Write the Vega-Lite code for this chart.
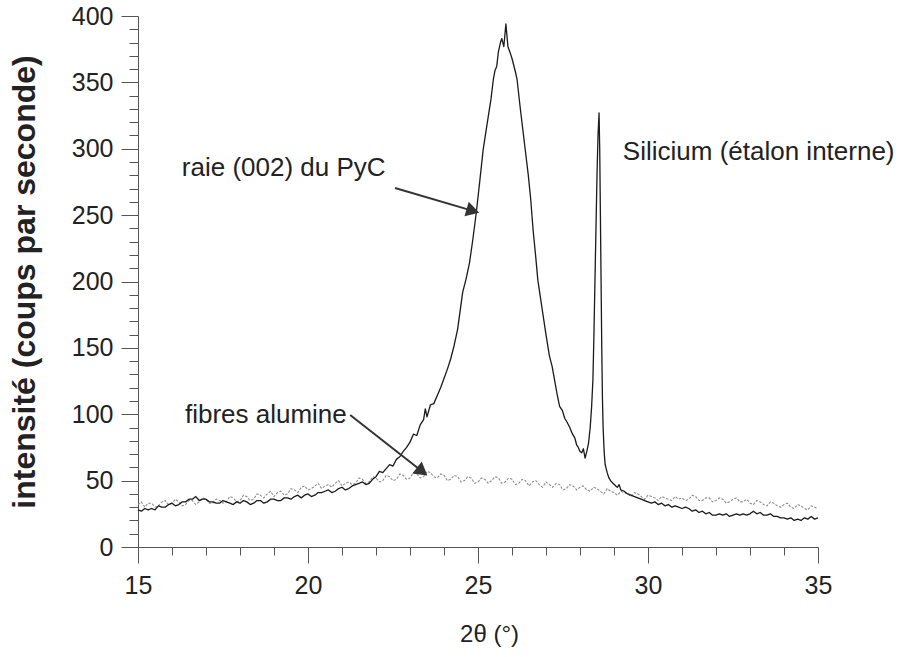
{
  "$schema": "https://vega.github.io/schema/vega-lite/v6.json",
  "width": 680,
  "height": 531,
  "autosize": {"type": "none"},
  "padding": {"left": 138, "top": 16, "right": 85, "bottom": 110},
  "background": "white",
  "config": {
    "view": {"stroke": null},
    "font": "Liberation Sans",
    "axis": {"grid": false, "domainColor": "#555", "tickColor": "#555", "labelColor": "#222", "titleColor": "#222", "labelFont": "Liberation Sans", "titleFont": "Liberation Sans", "labelFlush": false}
  },
  "datasets": {
    "pyc": [
      {"theta": 15.0, "intensite": 28}, {"theta": 15.1, "intensite": 27}, {"theta": 15.2, "intensite": 29}, {"theta": 15.3, "intensite": 28},
      {"theta": 15.4, "intensite": 29}, {"theta": 15.5, "intensite": 28}, {"theta": 15.6, "intensite": 31}, {"theta": 15.7, "intensite": 30},
      {"theta": 15.8, "intensite": 30}, {"theta": 15.9, "intensite": 32}, {"theta": 16.0, "intensite": 33}, {"theta": 16.1, "intensite": 31},
      {"theta": 16.2, "intensite": 32}, {"theta": 16.3, "intensite": 34}, {"theta": 16.4, "intensite": 34}, {"theta": 16.5, "intensite": 36},
      {"theta": 16.6, "intensite": 36}, {"theta": 16.7, "intensite": 38}, {"theta": 16.8, "intensite": 35}, {"theta": 16.9, "intensite": 36},
      {"theta": 17.0, "intensite": 36}, {"theta": 17.1, "intensite": 34}, {"theta": 17.2, "intensite": 34}, {"theta": 17.3, "intensite": 33},
      {"theta": 17.4, "intensite": 33}, {"theta": 17.5, "intensite": 35}, {"theta": 17.6, "intensite": 34}, {"theta": 17.7, "intensite": 33},
      {"theta": 17.8, "intensite": 32}, {"theta": 17.9, "intensite": 34}, {"theta": 18.0, "intensite": 33}, {"theta": 18.1, "intensite": 35},
      {"theta": 18.2, "intensite": 34}, {"theta": 18.3, "intensite": 32}, {"theta": 18.4, "intensite": 33}, {"theta": 18.5, "intensite": 35},
      {"theta": 18.6, "intensite": 35}, {"theta": 18.7, "intensite": 33}, {"theta": 18.8, "intensite": 34}, {"theta": 18.9, "intensite": 36},
      {"theta": 19.0, "intensite": 36}, {"theta": 19.1, "intensite": 35}, {"theta": 19.2, "intensite": 35}, {"theta": 19.3, "intensite": 37},
      {"theta": 19.4, "intensite": 37}, {"theta": 19.5, "intensite": 36}, {"theta": 19.6, "intensite": 38}, {"theta": 19.7, "intensite": 39},
      {"theta": 19.8, "intensite": 37}, {"theta": 19.9, "intensite": 39}, {"theta": 20.0, "intensite": 40}, {"theta": 20.1, "intensite": 38},
      {"theta": 20.2, "intensite": 39}, {"theta": 20.3, "intensite": 41}, {"theta": 20.4, "intensite": 41}, {"theta": 20.5, "intensite": 42},
      {"theta": 20.6, "intensite": 43}, {"theta": 20.7, "intensite": 41}, {"theta": 20.8, "intensite": 42}, {"theta": 20.9, "intensite": 44},
      {"theta": 21.0, "intensite": 45}, {"theta": 21.1, "intensite": 43}, {"theta": 21.2, "intensite": 44}, {"theta": 21.3, "intensite": 46},
      {"theta": 21.4, "intensite": 47}, {"theta": 21.5, "intensite": 48}, {"theta": 21.6, "intensite": 49}, {"theta": 21.7, "intensite": 47},
      {"theta": 21.8, "intensite": 48}, {"theta": 21.9, "intensite": 51}, {"theta": 22.0, "intensite": 53}, {"theta": 22.1, "intensite": 57},
      {"theta": 22.2, "intensite": 56}, {"theta": 22.3, "intensite": 59}, {"theta": 22.4, "intensite": 62}, {"theta": 22.5, "intensite": 61},
      {"theta": 22.6, "intensite": 66}, {"theta": 22.7, "intensite": 68}, {"theta": 22.8, "intensite": 72}, {"theta": 22.9, "intensite": 75},
      {"theta": 23.0, "intensite": 79}, {"theta": 23.1, "intensite": 85}, {"theta": 23.2, "intensite": 84}, {"theta": 23.3, "intensite": 92},
      {"theta": 23.4, "intensite": 96}, {"theta": 23.45, "intensite": 104}, {"theta": 23.5, "intensite": 98}, {"theta": 23.6, "intensite": 107},
      {"theta": 23.7, "intensite": 108}, {"theta": 23.8, "intensite": 114}, {"theta": 23.9, "intensite": 120}, {"theta": 24.0, "intensite": 127},
      {"theta": 24.1, "intensite": 134}, {"theta": 24.2, "intensite": 142}, {"theta": 24.3, "intensite": 152}, {"theta": 24.4, "intensite": 164},
      {"theta": 24.55, "intensite": 192}, {"theta": 24.65, "intensite": 202}, {"theta": 24.75, "intensite": 214}, {"theta": 24.85, "intensite": 232},
      {"theta": 24.95, "intensite": 252}, {"theta": 25.05, "intensite": 275}, {"theta": 25.15, "intensite": 299}, {"theta": 25.3, "intensite": 324},
      {"theta": 25.38, "intensite": 337}, {"theta": 25.45, "intensite": 352}, {"theta": 25.5, "intensite": 359}, {"theta": 25.55, "intensite": 362},
      {"theta": 25.6, "intensite": 373}, {"theta": 25.66, "intensite": 380}, {"theta": 25.7, "intensite": 383}, {"theta": 25.76, "intensite": 377},
      {"theta": 25.82, "intensite": 394}, {"theta": 25.88, "intensite": 377}, {"theta": 25.95, "intensite": 372}, {"theta": 26.0, "intensite": 368},
      {"theta": 26.1, "intensite": 358}, {"theta": 26.15, "intensite": 352}, {"theta": 26.25, "intensite": 329}, {"theta": 26.32, "intensite": 314},
      {"theta": 26.4, "intensite": 297}, {"theta": 26.48, "intensite": 280}, {"theta": 26.55, "intensite": 262}, {"theta": 26.62, "intensite": 239},
      {"theta": 26.7, "intensite": 218}, {"theta": 26.76, "intensite": 201}, {"theta": 26.83, "intensite": 189}, {"theta": 26.9, "intensite": 177},
      {"theta": 27.0, "intensite": 160}, {"theta": 27.1, "intensite": 144}, {"theta": 27.18, "intensite": 136}, {"theta": 27.25, "intensite": 126},
      {"theta": 27.32, "intensite": 116}, {"theta": 27.4, "intensite": 106}, {"theta": 27.48, "intensite": 103}, {"theta": 27.55, "intensite": 97},
      {"theta": 27.62, "intensite": 94}, {"theta": 27.7, "intensite": 90}, {"theta": 27.78, "intensite": 85}, {"theta": 27.85, "intensite": 82},
      {"theta": 27.9, "intensite": 77}, {"theta": 27.95, "intensite": 75}, {"theta": 28.0, "intensite": 72}, {"theta": 28.05, "intensite": 71},
      {"theta": 28.1, "intensite": 74}, {"theta": 28.15, "intensite": 67}, {"theta": 28.2, "intensite": 72}, {"theta": 28.25, "intensite": 78},
      {"theta": 28.3, "intensite": 90}, {"theta": 28.34, "intensite": 105}, {"theta": 28.38, "intensite": 126}, {"theta": 28.41, "intensite": 160},
      {"theta": 28.44, "intensite": 201}, {"theta": 28.47, "intensite": 240}, {"theta": 28.5, "intensite": 280}, {"theta": 28.53, "intensite": 310},
      {"theta": 28.56, "intensite": 327}, {"theta": 28.58, "intensite": 300}, {"theta": 28.6, "intensite": 250}, {"theta": 28.62, "intensite": 200},
      {"theta": 28.64, "intensite": 150}, {"theta": 28.66, "intensite": 112}, {"theta": 28.68, "intensite": 90}, {"theta": 28.71, "intensite": 72},
      {"theta": 28.74, "intensite": 62}, {"theta": 28.8, "intensite": 56}, {"theta": 28.85, "intensite": 52}, {"theta": 28.9, "intensite": 50},
      {"theta": 28.97, "intensite": 48}, {"theta": 29.05, "intensite": 46}, {"theta": 29.1, "intensite": 45}, {"theta": 29.15, "intensite": 47},
      {"theta": 29.2, "intensite": 43}, {"theta": 29.3, "intensite": 42}, {"theta": 29.4, "intensite": 40}, {"theta": 29.5, "intensite": 39},
      {"theta": 29.6, "intensite": 38}, {"theta": 29.7, "intensite": 37}, {"theta": 29.8, "intensite": 36}, {"theta": 29.9, "intensite": 35},
      {"theta": 30.0, "intensite": 34}, {"theta": 30.1, "intensite": 33}, {"theta": 30.2, "intensite": 34}, {"theta": 30.3, "intensite": 32},
      {"theta": 30.4, "intensite": 33}, {"theta": 30.5, "intensite": 31}, {"theta": 30.6, "intensite": 32}, {"theta": 30.7, "intensite": 30},
      {"theta": 30.8, "intensite": 31}, {"theta": 30.9, "intensite": 30}, {"theta": 31.0, "intensite": 29}, {"theta": 31.1, "intensite": 30},
      {"theta": 31.2, "intensite": 29}, {"theta": 31.3, "intensite": 27}, {"theta": 31.4, "intensite": 28}, {"theta": 31.5, "intensite": 26},
      {"theta": 31.6, "intensite": 27}, {"theta": 31.7, "intensite": 25}, {"theta": 31.8, "intensite": 26}, {"theta": 31.9, "intensite": 24},
      {"theta": 32.0, "intensite": 24}, {"theta": 32.1, "intensite": 25}, {"theta": 32.2, "intensite": 24}, {"theta": 32.3, "intensite": 25},
      {"theta": 32.4, "intensite": 23}, {"theta": 32.5, "intensite": 24}, {"theta": 32.6, "intensite": 25}, {"theta": 32.7, "intensite": 24},
      {"theta": 32.8, "intensite": 25}, {"theta": 32.9, "intensite": 24}, {"theta": 33.0, "intensite": 25}, {"theta": 33.1, "intensite": 27},
      {"theta": 33.2, "intensite": 25}, {"theta": 33.3, "intensite": 26}, {"theta": 33.4, "intensite": 24}, {"theta": 33.5, "intensite": 24},
      {"theta": 33.6, "intensite": 25}, {"theta": 33.7, "intensite": 23}, {"theta": 33.8, "intensite": 23}, {"theta": 33.9, "intensite": 22},
      {"theta": 34.0, "intensite": 22}, {"theta": 34.1, "intensite": 21}, {"theta": 34.2, "intensite": 22}, {"theta": 34.3, "intensite": 20},
      {"theta": 34.4, "intensite": 21}, {"theta": 34.5, "intensite": 20}, {"theta": 34.6, "intensite": 22}, {"theta": 34.7, "intensite": 21},
      {"theta": 34.8, "intensite": 23}, {"theta": 34.9, "intensite": 21}, {"theta": 35.0, "intensite": 22}
    ],
    "alumine": [
      {"theta": 15.0, "intensite": 32}, {"theta": 15.1, "intensite": 34}, {"theta": 15.2, "intensite": 30}, {"theta": 15.3, "intensite": 33}, {"theta": 15.4, "intensite": 33}, {"theta": 15.5, "intensite": 30}, {"theta": 15.6, "intensite": 31}, {"theta": 15.7, "intensite": 34},
      {"theta": 15.8, "intensite": 35}, {"theta": 15.9, "intensite": 32}, {"theta": 16.0, "intensite": 33}, {"theta": 16.1, "intensite": 36}, {"theta": 16.2, "intensite": 34}, {"theta": 16.3, "intensite": 31}, {"theta": 16.4, "intensite": 32}, {"theta": 16.5, "intensite": 35},
      {"theta": 16.6, "intensite": 35}, {"theta": 16.7, "intensite": 32}, {"theta": 16.8, "intensite": 34}, {"theta": 16.9, "intensite": 37}, {"theta": 17.0, "intensite": 36}, {"theta": 17.1, "intensite": 33}, {"theta": 17.2, "intensite": 33}, {"theta": 17.3, "intensite": 36},
      {"theta": 17.4, "intensite": 35}, {"theta": 17.5, "intensite": 33}, {"theta": 17.6, "intensite": 34}, {"theta": 17.7, "intensite": 38}, {"theta": 17.8, "intensite": 37}, {"theta": 17.9, "intensite": 34}, {"theta": 18.0, "intensite": 35}, {"theta": 18.1, "intensite": 39},
      {"theta": 18.2, "intensite": 38}, {"theta": 18.3, "intensite": 35}, {"theta": 18.4, "intensite": 36}, {"theta": 18.5, "intensite": 40}, {"theta": 18.6, "intensite": 39}, {"theta": 18.7, "intensite": 37}, {"theta": 18.8, "intensite": 40}, {"theta": 18.9, "intensite": 42},
      {"theta": 19.0, "intensite": 38}, {"theta": 19.1, "intensite": 41}, {"theta": 19.2, "intensite": 42}, {"theta": 19.3, "intensite": 39}, {"theta": 19.4, "intensite": 40}, {"theta": 19.5, "intensite": 44}, {"theta": 19.6, "intensite": 43}, {"theta": 19.7, "intensite": 41},
      {"theta": 19.8, "intensite": 45}, {"theta": 19.9, "intensite": 46}, {"theta": 20.0, "intensite": 43}, {"theta": 20.1, "intensite": 44}, {"theta": 20.2, "intensite": 46}, {"theta": 20.3, "intensite": 48}, {"theta": 20.4, "intensite": 44}, {"theta": 20.5, "intensite": 46},
      {"theta": 20.6, "intensite": 47}, {"theta": 20.7, "intensite": 45}, {"theta": 20.8, "intensite": 48}, {"theta": 20.9, "intensite": 50}, {"theta": 21.0, "intensite": 46}, {"theta": 21.1, "intensite": 48}, {"theta": 21.2, "intensite": 49}, {"theta": 21.3, "intensite": 47},
      {"theta": 21.4, "intensite": 48}, {"theta": 21.5, "intensite": 52}, {"theta": 21.6, "intensite": 51}, {"theta": 21.7, "intensite": 48}, {"theta": 21.8, "intensite": 49}, {"theta": 21.9, "intensite": 53}, {"theta": 22.0, "intensite": 52}, {"theta": 22.1, "intensite": 49},
      {"theta": 22.2, "intensite": 50}, {"theta": 22.3, "intensite": 54}, {"theta": 22.4, "intensite": 53}, {"theta": 22.5, "intensite": 50}, {"theta": 22.6, "intensite": 51}, {"theta": 22.7, "intensite": 55}, {"theta": 22.8, "intensite": 54}, {"theta": 22.9, "intensite": 51},
      {"theta": 23.0, "intensite": 52}, {"theta": 23.1, "intensite": 56}, {"theta": 23.2, "intensite": 55}, {"theta": 23.3, "intensite": 52}, {"theta": 23.4, "intensite": 53}, {"theta": 23.5, "intensite": 57}, {"theta": 23.6, "intensite": 56}, {"theta": 23.7, "intensite": 53},
      {"theta": 23.8, "intensite": 52}, {"theta": 23.9, "intensite": 55}, {"theta": 24.0, "intensite": 54}, {"theta": 24.1, "intensite": 50}, {"theta": 24.2, "intensite": 51}, {"theta": 24.3, "intensite": 54}, {"theta": 24.4, "intensite": 53}, {"theta": 24.5, "intensite": 49},
      {"theta": 24.6, "intensite": 50}, {"theta": 24.7, "intensite": 53}, {"theta": 24.8, "intensite": 52}, {"theta": 24.9, "intensite": 48}, {"theta": 25.0, "intensite": 49}, {"theta": 25.1, "intensite": 52}, {"theta": 25.2, "intensite": 51}, {"theta": 25.3, "intensite": 48},
      {"theta": 25.4, "intensite": 50}, {"theta": 25.5, "intensite": 53}, {"theta": 25.6, "intensite": 52}, {"theta": 25.7, "intensite": 48}, {"theta": 25.8, "intensite": 49}, {"theta": 25.9, "intensite": 52}, {"theta": 26.0, "intensite": 51}, {"theta": 26.1, "intensite": 47},
      {"theta": 26.2, "intensite": 48}, {"theta": 26.3, "intensite": 51}, {"theta": 26.4, "intensite": 50}, {"theta": 26.5, "intensite": 46}, {"theta": 26.6, "intensite": 49}, {"theta": 26.7, "intensite": 50}, {"theta": 26.8, "intensite": 47}, {"theta": 26.9, "intensite": 45},
      {"theta": 27.0, "intensite": 49}, {"theta": 27.1, "intensite": 47}, {"theta": 27.2, "intensite": 45}, {"theta": 27.3, "intensite": 48}, {"theta": 27.4, "intensite": 47}, {"theta": 27.5, "intensite": 43}, {"theta": 27.6, "intensite": 44}, {"theta": 27.7, "intensite": 47},
      {"theta": 27.8, "intensite": 46}, {"theta": 27.9, "intensite": 43}, {"theta": 28.0, "intensite": 45}, {"theta": 28.1, "intensite": 46}, {"theta": 28.2, "intensite": 43}, {"theta": 28.3, "intensite": 42}, {"theta": 28.4, "intensite": 45}, {"theta": 28.5, "intensite": 44},
      {"theta": 28.6, "intensite": 42}, {"theta": 28.7, "intensite": 40}, {"theta": 28.8, "intensite": 44}, {"theta": 28.9, "intensite": 42}, {"theta": 29.0, "intensite": 41}, {"theta": 29.1, "intensite": 39}, {"theta": 29.2, "intensite": 42}, {"theta": 29.3, "intensite": 41},
      {"theta": 29.4, "intensite": 40}, {"theta": 29.5, "intensite": 38}, {"theta": 29.6, "intensite": 41}, {"theta": 29.7, "intensite": 40}, {"theta": 29.8, "intensite": 38}, {"theta": 29.9, "intensite": 36}, {"theta": 30.0, "intensite": 39}, {"theta": 30.1, "intensite": 38},
      {"theta": 30.2, "intensite": 37}, {"theta": 30.3, "intensite": 35}, {"theta": 30.4, "intensite": 38}, {"theta": 30.5, "intensite": 37}, {"theta": 30.6, "intensite": 36}, {"theta": 30.7, "intensite": 35}, {"theta": 30.8, "intensite": 38}, {"theta": 30.9, "intensite": 36},
      {"theta": 31.0, "intensite": 37}, {"theta": 31.1, "intensite": 35}, {"theta": 31.2, "intensite": 36}, {"theta": 31.3, "intensite": 39}, {"theta": 31.4, "intensite": 38}, {"theta": 31.5, "intensite": 35}, {"theta": 31.6, "intensite": 35}, {"theta": 31.7, "intensite": 37},
      {"theta": 31.8, "intensite": 37}, {"theta": 31.9, "intensite": 34}, {"theta": 32.0, "intensite": 35}, {"theta": 32.1, "intensite": 37}, {"theta": 32.2, "intensite": 36}, {"theta": 32.3, "intensite": 33}, {"theta": 32.4, "intensite": 34}, {"theta": 32.5, "intensite": 36},
      {"theta": 32.6, "intensite": 37}, {"theta": 32.7, "intensite": 34}, {"theta": 32.8, "intensite": 34}, {"theta": 32.9, "intensite": 36}, {"theta": 33.0, "intensite": 33}, {"theta": 33.1, "intensite": 32}, {"theta": 33.2, "intensite": 35}, {"theta": 33.3, "intensite": 34},
      {"theta": 33.4, "intensite": 32}, {"theta": 33.5, "intensite": 31}, {"theta": 33.6, "intensite": 34}, {"theta": 33.7, "intensite": 33}, {"theta": 33.8, "intensite": 31}, {"theta": 33.9, "intensite": 30}, {"theta": 34.0, "intensite": 32}, {"theta": 34.1, "intensite": 33},
      {"theta": 34.2, "intensite": 30}, {"theta": 34.3, "intensite": 29}, {"theta": 34.4, "intensite": 32}, {"theta": 34.5, "intensite": 31}, {"theta": 34.6, "intensite": 29}, {"theta": 34.7, "intensite": 28}, {"theta": 34.8, "intensite": 31}, {"theta": 34.9, "intensite": 30},
      {"theta": 35.0, "intensite": 29}
    ],
    "labels": [
      {"text": "raie (002) du PyC", "theta": 16.29, "intensite": 285.5},
      {"text": "Silicium (étalon interne)", "theta": 29.26, "intensite": 297.5},
      {"text": "fibres alumine", "theta": 16.38, "intensite": 99.4}
    ],
    "arrows": [
      {"x1": 22.56, "y1": 270.4, "x2": 24.85, "y2": 253.2},
      {"x1": 21.24, "y1": 99.4, "x2": 23.36, "y2": 56.9}
    ],
    "head1": [{"theta": 24.85, "intensite": 253.2}],
    "head2": [{"theta": 23.36, "intensite": 56.9}]
  },
  "resolve": {"axis": {"x": "independent", "y": "independent"}},
  "layer": [
    {
      "data": {"name": "alumine"},
      "mark": {"type": "line", "color": "#8c8c8c", "strokeWidth": 1.1, "strokeDash": [2.5, 1.5]},
      "encoding": {
        "x": {"field": "theta", "type": "quantitative", "scale": {"domain": [15, 35], "nice": false},
          "axis": {"orient": "bottom", "values": [16, 17, 18, 19, 21, 22, 23, 24, 26, 27, 28, 29, 31, 32, 33, 34], "tickSize": 8, "labels": false, "domain": false, "title": null, "tickColor": "#555"}},
        "y": {"field": "intensite", "type": "quantitative", "scale": {"domain": [0, 400], "nice": false},
          "axis": {"orient": "left", "values": [10, 20, 30, 40, 60, 70, 80, 90, 110, 120, 130, 140, 160, 170, 180, 190, 210, 220, 230, 240, 260, 270, 280, 290, 310, 320, 330, 340, 360, 370, 380, 390], "tickSize": 9, "labels": false, "domain": false, "title": null, "tickColor": "#555"}}
      }
    },
    {
      "data": {"name": "pyc"},
      "mark": {"type": "line", "color": "#1a1a1a", "strokeWidth": 1.3, "strokeJoin": "round"},
      "encoding": {
        "x": {"field": "theta", "type": "quantitative", "scale": {"domain": [15, 35], "nice": false},
          "axis": {"orient": "bottom", "values": [15, 20, 25, 30, 35], "tickSize": 16, "labelFontSize": 25, "labelPadding": 10, "title": "2θ (°)", "titleFontSize": 24, "titleFontWeight": "normal", "titlePadding": 24, "titleX": 351}},
        "y": {"field": "intensite", "type": "quantitative", "scale": {"domain": [0, 400], "nice": false},
          "axis": {"orient": "left", "values": [0, 50, 100, 150, 200, 250, 300, 350, 400], "tickSize": 17, "labelFontSize": 25, "labelPadding": 8, "title": "intensité (coups par seconde)", "titleFontSize": 32, "titleFontWeight": "bold", "titlePadding": 30}}
      }
    },
    {
      "data": {"name": "arrows"},
      "mark": {"type": "rule", "color": "#333", "strokeWidth": 2},
      "encoding": {
        "x": {"field": "x1", "type": "quantitative", "axis": null},
        "y": {"field": "y1", "type": "quantitative", "axis": null},
        "x2": {"field": "x2"},
        "y2": {"field": "y2"}
      }
    },
    {
      "data": {"name": "head1"},
      "mark": {"type": "point", "shape": "triangle-right", "filled": true, "color": "#333", "size": 230, "angle": 16.4, "opacity": 1},
      "encoding": {
        "x": {"field": "theta", "type": "quantitative", "axis": null},
        "y": {"field": "intensite", "type": "quantitative", "axis": null}
      }
    },
    {
      "data": {"name": "head2"},
      "mark": {"type": "point", "shape": "triangle-right", "filled": true, "color": "#333", "size": 230, "angle": 38, "opacity": 1},
      "encoding": {
        "x": {"field": "theta", "type": "quantitative", "axis": null},
        "y": {"field": "intensite", "type": "quantitative", "axis": null}
      }
    },
    {
      "data": {"name": "labels"},
      "mark": {"type": "text", "align": "left", "baseline": "middle", "fontSize": 26, "font": "Liberation Sans", "color": "#222"},
      "encoding": {
        "x": {"field": "theta", "type": "quantitative", "axis": null},
        "y": {"field": "intensite", "type": "quantitative", "axis": null},
        "text": {"field": "text"}
      }
    }
  ]
}
